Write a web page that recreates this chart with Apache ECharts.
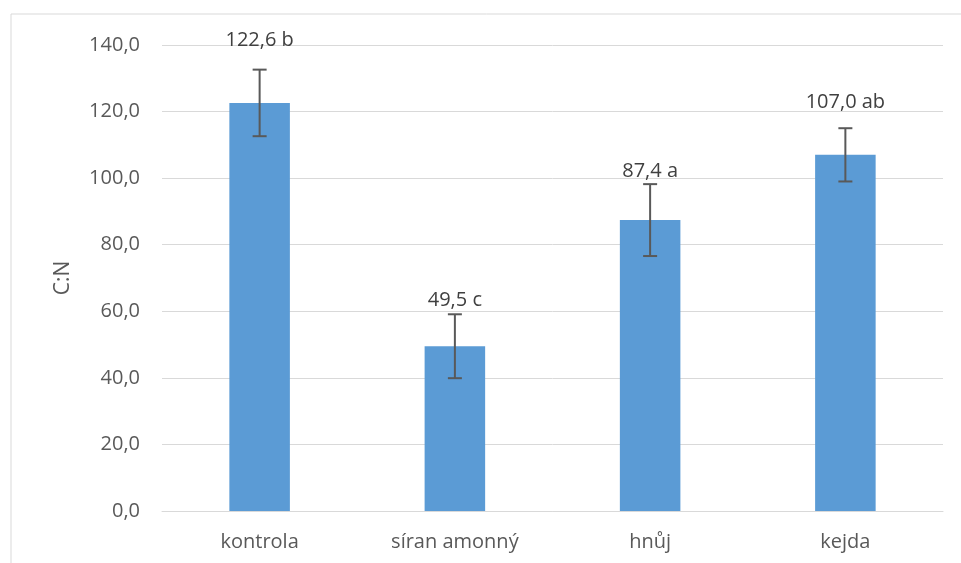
<!DOCTYPE html>
<html>
<head>
<meta charset="utf-8">
<script src="https://cdn.jsdelivr.net/npm/echarts@6/dist/echarts.min.js"></script>
<style>
  html, body { margin: 0; padding: 0; background: #fff; }
  #cn-chart { width: 961px; height: 563px; }
</style>
</head>
<body>
<div id="cn-chart"></div>
<script>
// data
const categories = ['kontrola', 'síran amonný', 'hnůj', 'kejda'];
const means = [122.6, 49.5, 87.4, 107.0];
const errors = [10.0, 9.6, 10.8, 8.0];
const letters = ['b', 'c', 'a', 'ab'];

// pixel lift of each label above its error bar (hand placed in the original)
const labelLift = [29, 14, 13, 26];

const fontFamily = '"Open Sans", "Noto Sans", sans-serif';
const textColor = '#595959';

function fmt(v) {
  return v.toFixed(1).replace('.', ',');
}

const errData = means.map((m, i) => [i, m - errors[i], m + errors[i]]);

const myChart = echarts.init(document.getElementById('cn-chart'));
const chartOption = {
  animation: false,
  grid: { left: 162, right: 18, top: 45, bottom: 52 },
  graphic: [{
    type: 'rect',
    shape: { x: 11, y: 14, width: 1000, height: 600 },
    style: { fill: 'none', stroke: '#d9d9d9', lineWidth: 1 },
    silent: true
  }],
  xAxis: {
    type: 'category',
    data: categories,
    axisTick: { show: false },
    axisLine: { lineStyle: { color: '#d9d9d9', width: 1 } },
    axisLabel: { color: textColor, fontSize: 20, fontFamily: fontFamily, margin: 21 }
  },
  yAxis: {
    type: 'value',
    min: 0,
    max: 140,
    interval: 20,
    name: 'C:N',
    nameLocation: 'middle',
    nameGap: 88,
    nameTextStyle: { color: textColor, fontSize: 21, fontFamily: fontFamily },
    axisLine: { show: false },
    axisTick: { show: false },
    splitLine: { lineStyle: { color: '#d9d9d9', width: 1 } },
    axisLabel: {
      color: textColor,
      fontSize: 20,
      fontFamily: fontFamily,
      margin: 22,
      formatter: v => fmt(v)
    }
  },
  series: [
    {
      type: 'bar',
      data: means,
      barWidth: '31%',
      itemStyle: { color: '#5b9bd5' }
    },
    {
      type: 'custom',
      data: errData,
      z: 10,
      renderItem: function (params, api) {
        const i = api.value(0);
        const lo = api.coord([i, api.value(1)]);
        const hi = api.coord([i, api.value(2)]);
        const cap = 7;
        const style = { stroke: '#595959', lineWidth: 2 };
        return {
          type: 'group',
          children: [
            { type: 'line', shape: { x1: hi[0], y1: hi[1], x2: lo[0], y2: lo[1] }, style: style },
            { type: 'line', shape: { x1: hi[0] - cap, y1: hi[1], x2: hi[0] + cap, y2: hi[1] }, style: style },
            { type: 'line', shape: { x1: lo[0] - cap, y1: lo[1], x2: lo[0] + cap, y2: lo[1] }, style: style },
            {
              type: 'text',
              x: hi[0],
              y: hi[1] - labelLift[i],
              style: {
                text: fmt(means[i]) + ' ' + letters[i],
                fill: '#404040',
                font: '20px ' + fontFamily,
                align: 'center',
                verticalAlign: 'middle'
              }
            }
          ]
        };
      }
    }
  ]
};
myChart.setOption(chartOption);
</script>
</body>
</html>
